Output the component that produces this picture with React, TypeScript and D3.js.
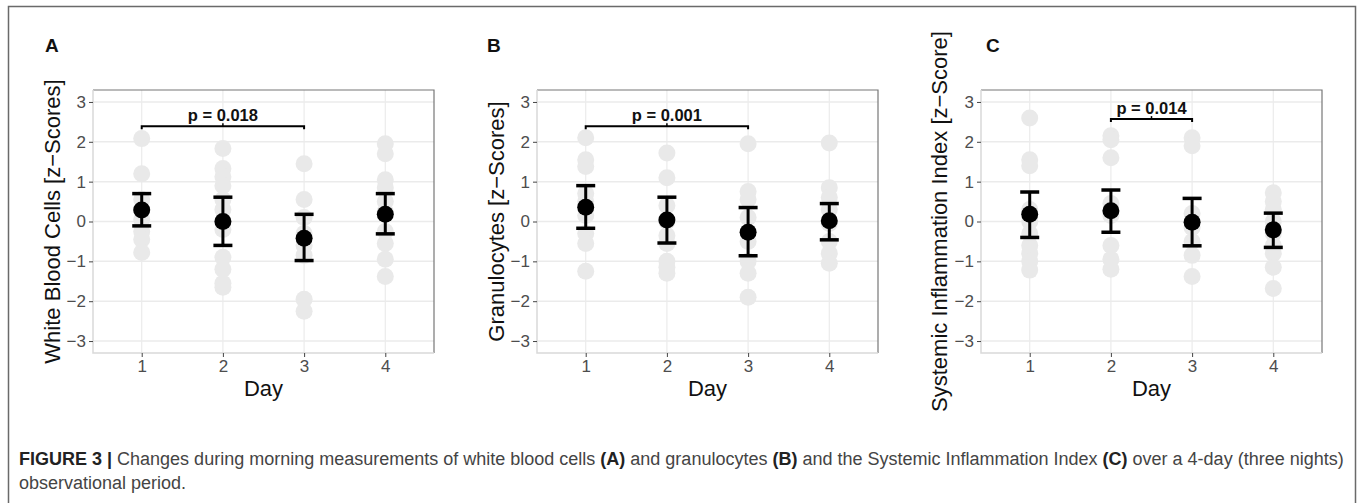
import React, { useEffect, useRef } from 'react';
import * as d3 from 'd3';

const days = [1, 2, 3, 4];
const panelLetters = ['A', 'B', 'C'];
const yTitles = [
  'White Blood Cells [z\u2212Scores]',
  'Granulocytes [z\u2212Scores]',
  'Systemic Inflammation Index [z\u2212Score]',
];
const yTicks = [-3, -2, -1, 0, 1, 2, 3];

// mean and error bar limits per day
const means = [
  [0.29, 0.0, -0.42, 0.18],
  [0.36, 0.04, -0.27, 0.02],
  [0.18, 0.27, -0.02, -0.21],
];
const lower = [
  [-0.11, -0.6, -0.98, -0.31],
  [-0.17, -0.54, -0.86, -0.46],
  [-0.4, -0.27, -0.61, -0.65],
];
const upper = [
  [0.7, 0.61, 0.18, 0.7],
  [0.9, 0.61, 0.35, 0.45],
  [0.74, 0.79, 0.58, 0.21],
];

// individual z-scores (grey dots), one list per day
const pointsA = [
  [2.08, 1.2, 0.55, 0.3, 0.05, -0.25, -0.45, -0.78],
  [1.83, 1.33, 1.12, 0.9, 0.55, 0.3, -0.2, -0.9, -1.2, -1.55, -1.65],
  [1.45, 0.55, 0.1, -0.3, -0.6, -0.85, -1.95, -2.25],
  [1.95, 1.7, 1.05, 0.85, 0.5, 0.25, -0.25, -0.55, -0.95, -1.38],
];
const pointsB = [
  [2.1, 1.55, 1.38, 0.7, 0.5, 0.15, -0.3, -0.55, -1.25],
  [1.72, 1.1, 0.4, 0.0, -0.35, -0.55, -1.0, -1.15, -1.3],
  [1.95, 0.75, 0.55, 0.1, -0.5, -1.0, -1.3, -1.9],
  [1.97, 0.85, 0.6, 0.3, -0.05, -0.5, -0.8, -1.05],
];
const pointsC = [
  [2.6, 1.55, 1.4, 0.3, 0.0, -0.3, -0.6, -0.8, -1.0, -1.22],
  [2.15, 2.05, 1.6, 0.45, 0.15, -0.6, -0.95, -1.2],
  [2.1, 1.9, 0.2, -0.15, -0.5, -0.85, -1.38],
  [0.72, 0.5, 0.3, 0.0, -0.3, -0.6, -0.8, -1.15, -1.68],
];
const points = [pointsA, pointsB, pointsC];

// significance brackets: [fromDay, toDay], height, label
const brackets = [
  { from: 1, to: 3, y: 2.39, label: 'p = 0.018' },
  { from: 1, to: 3, y: 2.39, label: 'p = 0.001' },
  { from: 2, to: 3, y: 2.57, label: 'p = 0.014' },
];

const App: React.FC = () => {
  const ref = useRef<SVGSVGElement | null>(null);

  useEffect(() => {
    if (!ref.current) return;
    const svg = d3.select(ref.current);
    svg.selectAll('*').remove();

    const font = 'Liberation Sans, Arial, Helvetica, sans-serif';
    const W = 1360;
    const H = 503;

    svg.append('rect').attr('width', W).attr('height', H).attr('fill', '#fff');

    // outer frame (no bottom edge visible)
    svg
      .append('path')
      .attr('d', `M8.5,${H} V6.5 H1355.5 V${H}`)
      .attr('fill', 'none')
      .attr('stroke', '#6a6a6a')
      .attr('stroke-width', 1.5);

    const plotLefts = [93, 537, 981];
    const plotWidth = 341;
    const top = 90;
    const bottom = 353;
    const titleX = [60, 504, 947];
    const letterX = [45, 487, 986];

    panelLetters.forEach((letter, pi) => {
      const x0 = plotLefts[pi];
      const x1 = x0 + plotWidth;
      const x = d3.scaleLinear().domain([0.4, 4.6]).range([x0, x1]);
      const y = d3.scaleLinear().domain([-3.3, 3.3]).range([bottom, top]);
      const g = svg.append('g');

      // panel letter
      g.append('text')
        .attr('x', letterX[pi])
        .attr('y', 52)
        .attr('font-family', font)
        .attr('font-weight', 'bold')
        .attr('font-size', 19)
        .attr('fill', '#111')
        .text(letter);

      // grid
      g.selectAll('.hgrid')
        .data(yTicks)
        .enter()
        .append('line')
        .attr('x1', x0)
        .attr('x2', x1)
        .attr('y1', (d) => y(d))
        .attr('y2', (d) => y(d))
        .attr('stroke', '#ebebeb')
        .attr('stroke-width', 1.5);
      g.selectAll('.vgrid')
        .data(days)
        .enter()
        .append('line')
        .attr('x1', (d) => x(d))
        .attr('x2', (d) => x(d))
        .attr('y1', top)
        .attr('y2', bottom)
        .attr('stroke', '#ebebeb')
        .attr('stroke-width', 1.2);

      // grey raw points
      days.forEach((day, di) => {
        g.selectAll(`.pt${di}`)
          .data(points[pi][di])
          .enter()
          .append('circle')
          .attr('cx', x(day))
          .attr('cy', (d) => y(d))
          .attr('r', 8.5)
          .attr('fill', '#e9e9e9');
      });

      // error bars
      days.forEach((day, di) => {
        const cx = x(day);
        g.append('line')
          .attr('x1', cx)
          .attr('x2', cx)
          .attr('y1', y(lower[pi][di]))
          .attr('y2', y(upper[pi][di]))
          .attr('stroke', '#000')
          .attr('stroke-width', 3);
        [lower[pi][di], upper[pi][di]].forEach((v) => {
          g.append('line')
            .attr('x1', cx - 9.5)
            .attr('x2', cx + 9.5)
            .attr('y1', y(v))
            .attr('y2', y(v))
            .attr('stroke', '#000')
            .attr('stroke-width', 3.5);
        });
        g.append('circle')
          .attr('cx', cx)
          .attr('cy', y(means[pi][di]))
          .attr('r', 8.5)
          .attr('fill', '#000');
      });

      // significance bracket
      const b = brackets[pi];
      const by = y(b.y);
      const bx1 = x(b.from);
      const bx2 = x(b.to);
      g.append('path')
        .attr('d', `M${bx1},${by + 3} V${by} H${bx2} V${by + 3}`)
        .attr('fill', 'none')
        .attr('stroke', '#000')
        .attr('stroke-width', 2);
      g.append('line')
        .attr('x1', (bx1 + bx2) / 2)
        .attr('x2', (bx1 + bx2) / 2)
        .attr('y1', by)
        .attr('y2', by - 3)
        .attr('stroke', '#000')
        .attr('stroke-width', 1.5);
      g.append('text')
        .attr('x', (bx1 + bx2) / 2)
        .attr('y', by - 5.5)
        .attr('text-anchor', 'middle')
        .attr('font-family', font)
        .attr('font-weight', 'bold')
        .attr('font-size', 16.5)
        .attr('fill', '#111')
        .text(b.label);

      // panel border
      g.append('path')
        .attr('d', `M${x0},${top} H${x1} V${bottom}`)
        .attr('fill', 'none')
        .attr('stroke', '#777')
        .attr('stroke-width', 1.2);
      g.append('path')
        .attr('d', `M${x0},${top} V${bottom} H${x1}`)
        .attr('fill', 'none')
        .attr('stroke', '#d9d9d9')
        .attr('stroke-width', 1.5);

      // axes
      const yAxis = d3
        .axisLeft(y)
        .tickValues(yTicks)
        .tickSize(4)
        .tickSizeOuter(0)
        .tickPadding(3)
        .tickFormat((d) => d3.format('d')(d as number).replace('-', '\u2212'));
      const ya = g.append('g').attr('transform', `translate(${x0},0)`).call(yAxis);
      ya.select('.domain').remove();
      ya.selectAll('line').attr('stroke', '#444');
      ya.selectAll('text')
        .attr('font-family', font)
        .attr('font-size', 17)
        .attr('fill', '#4d4d4d');

      const xAxis = d3
        .axisBottom(x)
        .tickValues(days)
        .tickSize(4)
        .tickSizeOuter(0)
        .tickPadding(3)
        .tickFormat(d3.format('d'));
      const xa = g.append('g').attr('transform', `translate(0,${bottom})`).call(xAxis);
      xa.select('.domain').remove();
      xa.selectAll('line').attr('stroke', '#444');
      xa.selectAll('text')
        .attr('font-family', font)
        .attr('font-size', 17)
        .attr('fill', '#4d4d4d');

      // axis titles
      g.append('text')
        .attr('x', (x0 + x1) / 2)
        .attr('y', 396)
        .attr('text-anchor', 'middle')
        .attr('font-family', font)
        .attr('font-size', 22)
        .attr('fill', '#111')
        .text('Day');
      g.append('text')
        .attr('transform', `translate(${titleX[pi]},${(top + bottom) / 2}) rotate(-90)`)
        .attr('text-anchor', 'middle')
        .attr('font-family', font)
        .attr('font-size', 22)
        .attr('fill', '#111')
        .text(yTitles[pi]);
    });

    // caption
    const cap = svg
      .append('text')
      .attr('x', 19)
      .attr('y', 465)
      .attr('font-family', font)
      .attr('font-size', 18)
      .attr('fill', '#444');
    cap.append('tspan').attr('font-weight', 'bold').attr('fill', '#222').text('FIGURE 3 | ');
    cap.append('tspan').text('Changes during morning measurements of white blood cells ');
    cap.append('tspan').attr('font-weight', 'bold').attr('fill', '#222').text('(A)');
    cap.append('tspan').text(' and granulocytes ');
    cap.append('tspan').attr('font-weight', 'bold').attr('fill', '#222').text('(B)');
    cap.append('tspan').text(' and the Systemic Inflammation Index ');
    cap.append('tspan').attr('font-weight', 'bold').attr('fill', '#222').text('(C)');
    cap.append('tspan').text(' over a 4-day (three nights)');
    svg
      .append('text')
      .attr('x', 19)
      .attr('y', 489)
      .attr('font-family', font)
      .attr('font-size', 18)
      .attr('fill', '#444')
      .text('observational period.');
  }, []);

  return (
    <svg
      ref={ref}
      width={1360}
      height={503}
      style={{ position: 'absolute', left: 0, top: 0, display: 'block' }}
    />
  );
};

export default App;
